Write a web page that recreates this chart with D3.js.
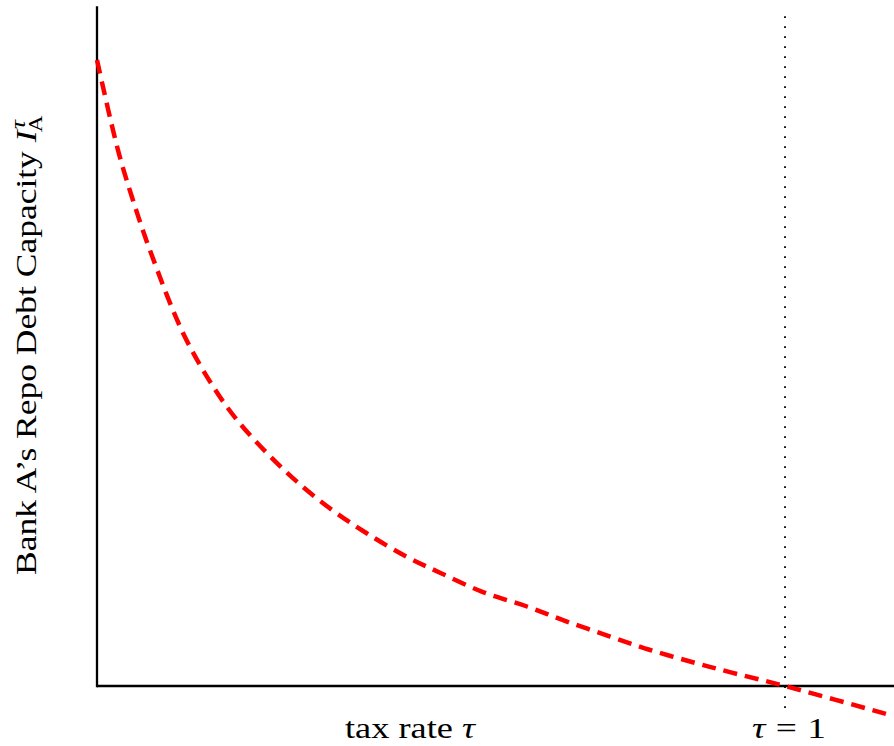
<!DOCTYPE html>
<html><head><meta charset="utf-8">
<script src="https://cdn.jsdelivr.net/npm/d3@7"></script>
<style>body{margin:0;background:#fff}svg{display:block}text{font-family:"Liberation Serif","Times New Roman",serif;fill:#000}</style>
</head><body><svg id="c" width="894" height="746"></svg>
<script>
// tax rate tau values and Bank A's repo debt capacity (relative units)
const tau = [0, 0.0305, 0.0523, 0.077, 0.125, 0.169, 0.2035, 0.247, 0.291, 0.342, 0.392, 0.451, 0.4985, 0.561, 0.625, 0.683, 0.746, 0.804, 0.866, 0.924, 1.0, 1.158];
const capacity = [1.0, 0.856, 0.776, 0.696, 0.564, 0.478, 0.425, 0.372, 0.326, 0.281, 0.244, 0.206, 0.181, 0.150, 0.127, 0.103, 0.079, 0.0575, 0.038, 0.021, 0.0, -0.048];
const markerTau = [1];
const xLabel = "tax rate ";
const yLabel = "Bank A\u2019s Repo Debt Capacity ";

const svg = d3.select("#c");
const x = d3.scaleLinear().domain([0, 1]).range([97, 785]);
const y = d3.scaleLinear().domain([0, 1]).range([686, 60]);

const pts = tau.map((t, i) => [t, capacity[i]]);

// dotted vertical marker at tau = 1
svg.selectAll("line.marker").data(markerTau).join("line")
  .attr("class", "marker")
  .attr("x1", d => x(d)).attr("x2", d => x(d))
  .attr("y1", y(1.07)).attr("y2", y(-0.048))
  .attr("stroke", "#000").attr("stroke-width", 1.8)
  .attr("stroke-dasharray", "1.8,8.2");

// axes
svg.append("line").attr("x1", x(0)).attr("x2", 894).attr("y1", y(0)).attr("y2", y(0))
  .attr("stroke", "#000").attr("stroke-width", 2.3);
svg.append("line").attr("x1", x(0)).attr("x2", x(0)).attr("y1", y(1.086)).attr("y2", y(0) + 1.15)
  .attr("stroke", "#000").attr("stroke-width", 2.3);

// curve
const line = d3.line().x(d => x(d[0])).y(d => y(d[1])).curve(d3.curveCatmullRom.alpha(0.5));
svg.append("path").datum(pts).attr("d", line)
  .attr("fill", "none").attr("stroke", "#ff0000").attr("stroke-width", 4.5)
  .attr("stroke-dasharray", "14,8");

// fit a label group to a target width (Computer-Modern-like wider glyphs)
function fit(g, targetW, cx, cy, rot) {
  const b = g.node().getBBox();
  const s = targetW / b.width;
  const mx = b.x + b.width / 2;
  g.attr("transform", `translate(${cx},${cy}) rotate(${rot}) scale(${s},1) translate(${-mx},0)`);
}

// x label
const xg = svg.append("g");
const xl = xg.append("text").attr("font-size", 29);
xl.append("tspan").text(xLabel);
xl.append("tspan").attr("font-style", "italic").text("\u03c4");
fit(xg, 132, 411, 738, 0);

// tau = 1 label
const tg = svg.append("g");
const tl = tg.append("text").attr("font-size", 29);
tl.append("tspan").attr("font-style", "italic").text("\u03c4");
tl.append("tspan").attr("dx", 8).text("=");
tl.append("tspan").attr("dx", 8).text("1");
fit(tg, 74, 789, 738, 0);

// y label
const yg = svg.append("g");
const yl = yg.append("text").attr("font-size", 29);
yl.append("tspan").text(yLabel);
yl.append("tspan").attr("font-style", "italic").text("I");
yl.append("tspan").attr("font-style", "italic").attr("font-size", 21).attr("dx", 1).attr("dy", -11).text("\u03c4");
yl.append("tspan").attr("font-size", 19).attr("dx", -10).attr("dy", 17).text("A");
fit(yg, 460, 36, 345, -90);
</script></body></html>
